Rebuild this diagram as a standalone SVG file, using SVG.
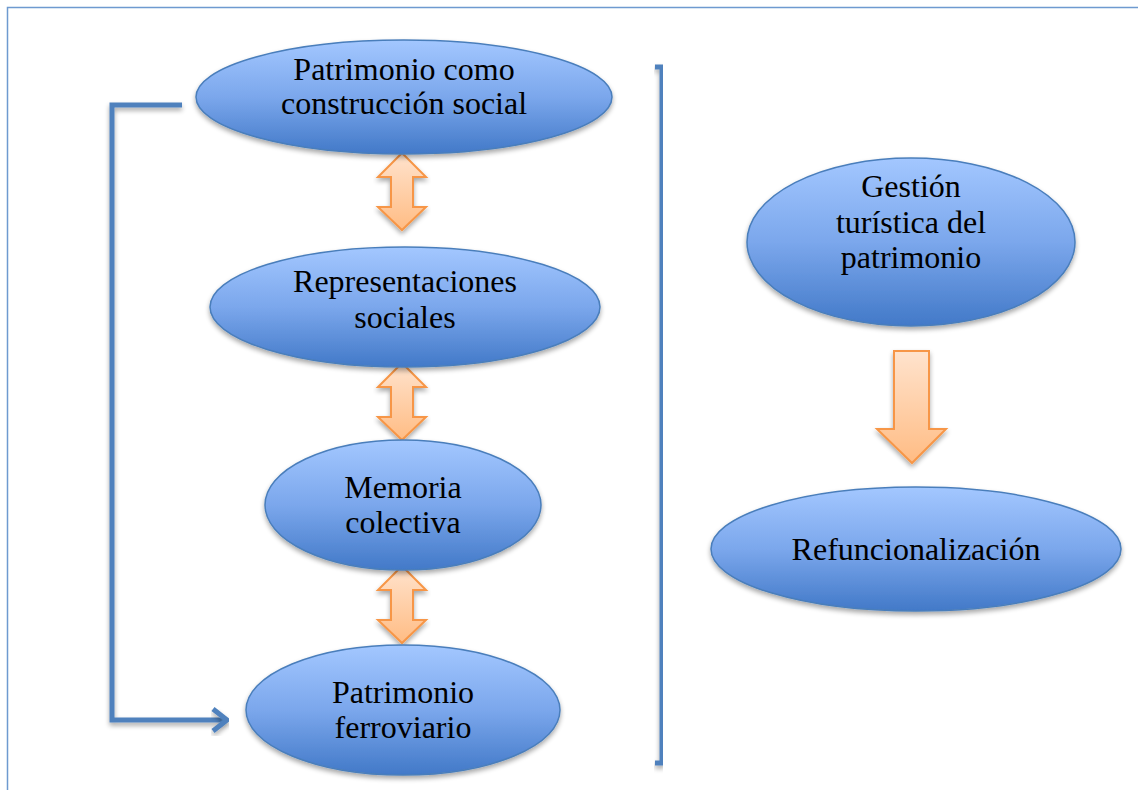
<svg xmlns="http://www.w3.org/2000/svg" width="1138" height="790" viewBox="0 0 1138 790">
<defs>
<linearGradient id="blue" x1="0" y1="0" x2="0" y2="1">
<stop offset="0" stop-color="#A3C7FF"/>
<stop offset="0.5" stop-color="#7BA7EC"/>
<stop offset="1" stop-color="#4279C8"/>
</linearGradient>
<linearGradient id="orange" x1="0" y1="0" x2="0" y2="1">
<stop offset="0" stop-color="#FFE3CD"/>
<stop offset="1" stop-color="#FFBC84"/>
</linearGradient>
<filter id="sh" x="-10%" y="-10%" width="120%" height="130%">
<feGaussianBlur in="SourceAlpha" stdDeviation="2.5"/>
<feOffset dx="0" dy="3" result="b"/>
<feComponentTransfer><feFuncA type="linear" slope="0.35"/></feComponentTransfer>
<feMerge><feMergeNode/><feMergeNode in="SourceGraphic"/></feMerge>
</filter>
</defs>
<style>
.node ellipse{fill:url(#blue);stroke:#4A7EBB;stroke-width:1.5;filter:url(#sh)}
.oa{fill:url(#orange);stroke:#F79646;stroke-width:2;filter:url(#sh)}
.ln{fill:none;stroke:#4F81BD;stroke-width:5;filter:url(#sh)}
</style>
<rect x="0" y="0" width="1138" height="790" fill="#fff"/>
<rect x="7.5" y="7.5" width="1140" height="800" fill="none" stroke="#6E9AD0" stroke-width="1.5"/>
<g id="connectors">
<path class="ln" d="M182,105 H112 V720 H225" />
<path d="M213,709 L227,720 L213,731" fill="none" stroke="#4F81BD" stroke-width="5" filter="url(#sh)"/>
<path class="ln" d="M655,67 H662 V763 H655"/>
<path class="oa" d="M402,153 L426,177 H413 V207 H426 L402,230 L378,207 H391 V177 H378 Z"/>
<path class="oa" d="M402,363 L426,387 H413 V417 H426 L402,440 L378,417 H391 V387 H378 Z"/>
<path class="oa" d="M402,566 L426,590 H413 V620 H426 L402,643 L378,620 H391 V590 H378 Z"/>
<path class="oa" d="M894,351 H929 V429 H946 L912,463 L877,429 H894 Z"/>
</g>
<g font-family="'Liberation Serif', 'Times New Roman', serif" font-size="32" fill="#000" text-anchor="middle">
<g id="n1" class="node"><ellipse cx="404" cy="97" rx="208" ry="57"/><text x="404" y="80">Patrimonio como</text><text x="404" y="114">construcción social</text></g>
<g id="n2" class="node"><ellipse cx="405" cy="307" rx="195" ry="60"/><text x="405" y="292">Representaciones</text><text x="405" y="328">sociales</text></g>
<g id="n3" class="node"><ellipse cx="403" cy="505" rx="138" ry="65"/><text x="403" y="498">Memoria</text><text x="403" y="533">colectiva</text></g>
<g id="n4" class="node"><ellipse cx="403" cy="710" rx="157" ry="65"/><text x="403" y="703">Patrimonio</text><text x="403" y="738">ferroviario</text></g>
<g id="n5" class="node"><ellipse cx="911" cy="242" rx="164" ry="84"/><text x="911" y="197">Gestión</text><text x="911" y="233">turística del</text><text x="911" y="268">patrimonio</text></g>
<g id="n6" class="node"><ellipse cx="916" cy="549" rx="205" ry="62"/><text x="916" y="560">Refuncionalización</text></g>
</g>
</svg>
